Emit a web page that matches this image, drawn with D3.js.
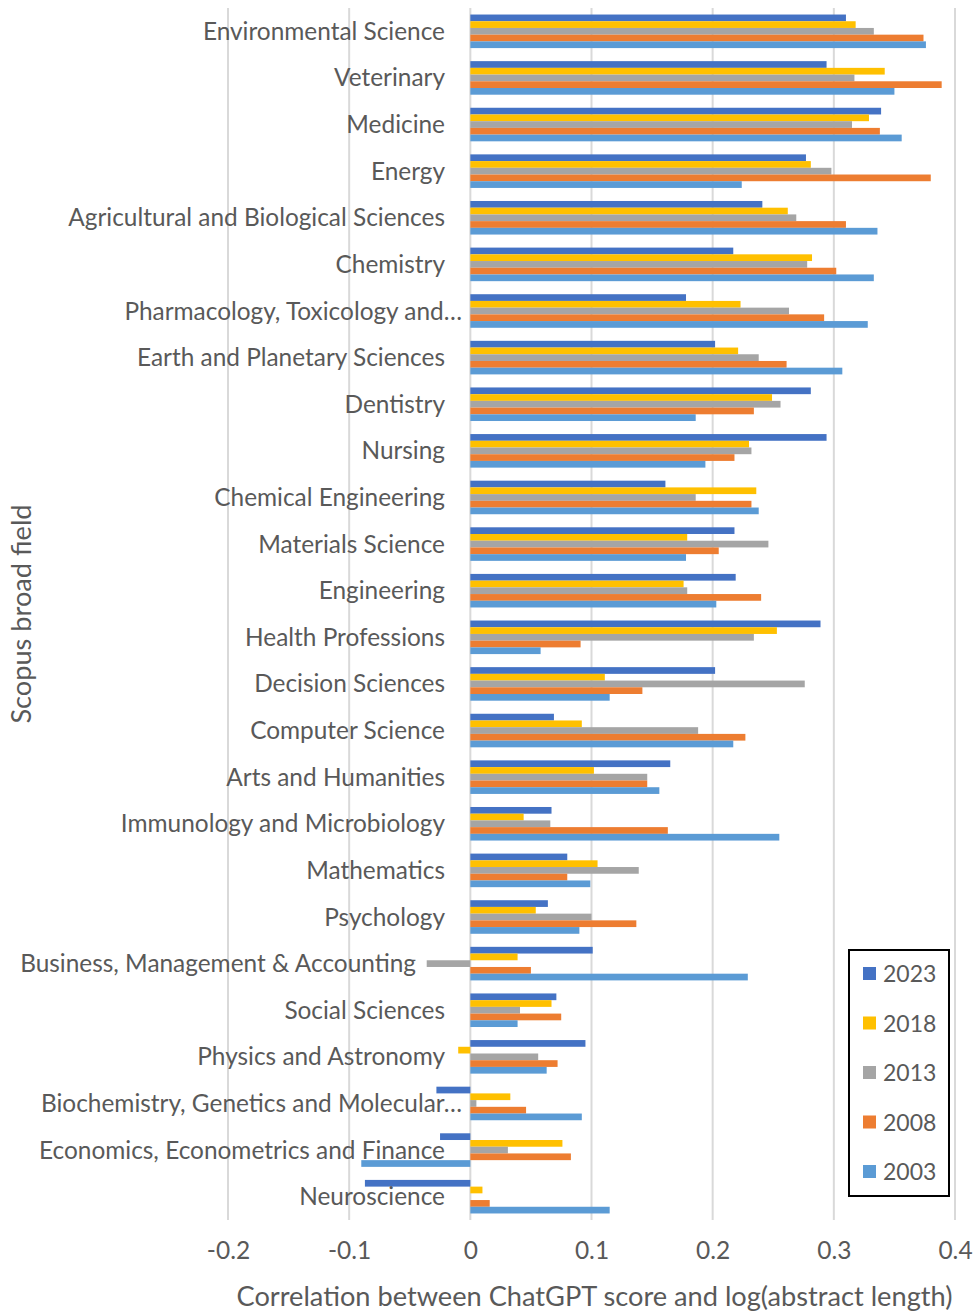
<!DOCTYPE html>
<html>
  <head>
    <meta charset="utf-8">
    <script src="https://cdn.jsdelivr.net/npm/d3@7"></script>
    <title>Correlation by field</title>
    <style>
      body { margin: 0; background: #fff; }
      text { font-family: Lato, "Open Sans", sans-serif; fill: #595959; }
    </style>
  </head>
  <body>
    <div id="chart"></div>
    <script>
    var categories = ["Environmental Science", "Veterinary", "Medicine", "Energy",
      "Agricultural and Biological Sciences", "Chemistry", "Pharmacology, Toxicology and\u2026",
      "Earth and Planetary Sciences", "Dentistry", "Nursing", "Chemical Engineering",
      "Materials Science", "Engineering", "Health Professions", "Decision Sciences",
      "Computer Science", "Arts and Humanities", "Immunology and Microbiology", "Mathematics",
      "Psychology", "Business, Management & Accounting", "Social Sciences",
      "Physics and Astronomy", "Biochemistry, Genetics and Molecular\u2026",
      "Economics, Econometrics and Finance", "Neuroscience"];

    var years = ["2023", "2018", "2013", "2008", "2003"];
    var colors = ["#4472C4", "#FFC000", "#A5A5A5", "#ED7D31", "#5B9BD5"];

    var v2023 = [0.310, 0.294, 0.339, 0.277, 0.241, 0.217, 0.178, 0.202, 0.281, 0.294, 0.161, 0.218, 0.219,
      0.289, 0.202, 0.069, 0.165, 0.067, 0.080, 0.064, 0.101, 0.071, 0.095, -0.028, -0.025, -0.087];
    var v2018 = [0.318, 0.342, 0.329, 0.281, 0.262, 0.282, 0.223, 0.221, 0.249, 0.230, 0.236, 0.179, 0.176,
      0.253, 0.111, 0.092, 0.102, 0.044, 0.105, 0.054, 0.039, 0.067, -0.010, 0.033, 0.076, 0.010];
    var v2013 = [0.333, 0.317, 0.315, 0.298, 0.269, 0.278, 0.263, 0.238, 0.256, 0.232, 0.186, 0.246, 0.179,
      0.234, 0.276, 0.188, 0.146, 0.066, 0.139, 0.100, -0.036, 0.041, 0.056, 0.005, 0.031, 0.000];
    var v2008 = [0.374, 0.389, 0.338, 0.380, 0.310, 0.302, 0.292, 0.261, 0.234, 0.218, 0.232, 0.205, 0.240,
      0.091, 0.142, 0.227, 0.146, 0.163, 0.080, 0.137, 0.050, 0.075, 0.072, 0.046, 0.083, 0.016];
    var v2003 = [0.376, 0.350, 0.356, 0.224, 0.336, 0.333, 0.328, 0.307, 0.186, 0.194, 0.238, 0.178, 0.203,
      0.058, 0.115, 0.217, 0.156, 0.255, 0.099, 0.090, 0.229, 0.039, 0.063, 0.092, -0.090, 0.115];

    var xTicks = [-0.2, -0.1, 0, 0.1, 0.2, 0.3, 0.4];

    var series = [v2023, v2018, v2013, v2008, v2003];
    var rows = categories.map(function(c, i) {
      return {name: c, values: years.map(function(y, k) { return {year: y, v: series[k][i], color: colors[k]}; })};
    });

    var W = 974, H = 1312;
    var plotLeft = 228, plotRight = 955, plotTop = 8, plotBottom = 1220;

    var svg = d3.select("#chart").append("svg")
        .attr("width", W)
        .attr("height", H);

    var x = d3.scaleLinear().domain([-0.2, 0.4]).range([plotLeft, plotRight]);
    var y = d3.scaleBand().domain(categories).range([plotTop, plotBottom]).paddingInner(0.28).paddingOuter(0.14);
    var yInner = d3.scaleBand().domain(years).range([0, y.bandwidth()]);

    // grid lines
    svg.append("g").selectAll("line")
      .data(xTicks)
      .enter().append("line")
        .attr("x1", function(d) { return x(d); })
        .attr("x2", function(d) { return x(d); })
        .attr("y1", plotTop)
        .attr("y2", plotBottom)
        .attr("stroke", "#d9d9d9")
        .attr("stroke-width", 2);

    // bars
    var groups = svg.append("g").selectAll("g")
      .data(rows)
      .enter().append("g")
        .attr("transform", function(d) { return "translate(0," + y(d.name) + ")"; });

    groups.selectAll("rect")
      .data(function(d) { return d.values; })
      .enter().append("rect")
        .attr("x", function(d) { return x(Math.min(0, d.v)); })
        .attr("y", function(d) { return yInner(d.year); })
        .attr("width", function(d) { return Math.abs(x(d.v) - x(0)); })
        .attr("height", yInner.bandwidth())
        .attr("fill", function(d) { return d.color; });

    // category labels (excel lets the truncated ones run a bit further right)
    svg.append("g").selectAll("text")
      .data(categories)
      .enter().append("text")
        .attr("x", function(d) {
          if (d.indexOf("Business") == 0) return 416;
          if (d.slice(-1) == "\u2026") return 462;
          return 445;
        })
        .attr("y", function(d) { return y(d) + y.bandwidth() / 2; })
        .attr("dy", "0.35em")
        .attr("text-anchor", "end")
        .style("font-size", "24.4px")
        .text(function(d) { return d; });

    // x axis labels
    var xAxis = d3.axisBottom(x).tickValues(xTicks).tickSize(0).tickPadding(0)
      .tickFormat(function(d) { return d == 0 ? "0" : d.toFixed(1); });
    var gx = svg.append("g")
      .attr("transform", "translate(0," + 1242 + ")")
      .call(xAxis);
    gx.select(".domain").remove();
    gx.selectAll("text")
      .attr("dy", "0.71em")
      .style("font-size", "24.5px")
      .attr("fill", null);
    gx.attr("font-family", null).attr("font-size", null);

    svg.append("text")
      .attr("x", (plotLeft + plotRight) / 2 + 3)
      .attr("y", 1306)
      .attr("text-anchor", "middle")
      .style("font-size", "27.2px")
      .text("Correlation between ChatGPT score and log(abstract length)");

    svg.append("text")
      .attr("transform", "translate(31,614) rotate(-90)")
      .attr("text-anchor", "middle")
      .style("font-size", "27.2px")
      .text("Scopus broad field");

    // legend
    var legend = svg.append("g").attr("transform", "translate(849,950)");
    legend.append("rect")
      .attr("width", 100)
      .attr("height", 246)
      .attr("fill", "#fff")
      .attr("stroke", "#000")
      .attr("stroke-width", 2);
    var item = legend.selectAll("g.item")
      .data(years)
      .enter().append("g")
        .attr("class", "item")
        .attr("transform", function(d, i) { return "translate(14," + (24 + i * 49.5) + ")"; });
    item.append("rect")
      .attr("y", -7)
      .attr("width", 13)
      .attr("height", 13)
      .attr("fill", function(d, i) { return colors[i]; });
    item.append("text")
      .attr("x", 20)
      .attr("dy", "0.35em")
      .style("font-size", "23px")
      .text(function(d) { return d; });
    </script>
  </body>
</html>
